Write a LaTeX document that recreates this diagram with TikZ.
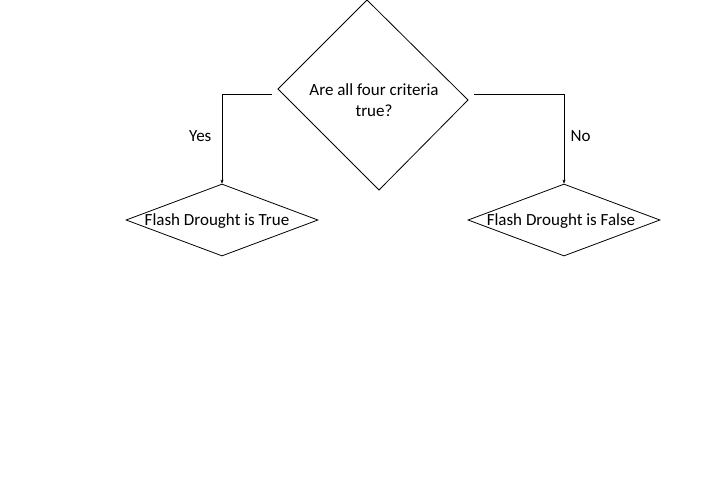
\documentclass[tikz,border=0pt]{standalone}
\usepackage{fontspec}
\setmainfont{Carlito}
\usetikzlibrary{shapes.geometric,arrows.meta}
\begin{document}
\begin{tikzpicture}[x=1pt,y=-1pt,
  shapeline/.style={draw=black,line width=0.8pt,line join=miter},
  dec/.style={shapeline,diamond,aspect=2.667,minimum width=192pt,minimum height=72pt,inner sep=0pt},
  conn/.style={draw=black,line width=0.6pt,-{Stealth[length=4pt,width=3pt]}},
  lbl/.style={font=\fontsize{17}{21}\selectfont,text=black}]
\useasboundingbox (0,0) rectangle (720,480);
% top decision (slightly rotated diamond)
\coordinate (qt) at (367,0);
\coordinate (ql) at (278,89);
\coordinate (qb) at (379,190);
\coordinate (qr) at (468,100);
\draw[shapeline] (qt) -- (qr) -- (qb) -- (ql) -- cycle;
\node[lbl,align=center] (q) at (374,100) {Are all four criteria\\true?};
% outcomes
\node[dec] (yes) at (222,220) {};
\node[lbl] (yest) at (217,221) {Flash Drought is True};
\node[dec] (no) at (564,220) {};
\node[lbl] (not) at (561,221) {Flash Drought is False};
% connectors
\coordinate (ls) at (272,94);
\coordinate (rs) at (474,94);
\draw[conn] (ls) -| (yes.north) node[lbl,pos=0.735,left=7pt] (ylab) {Yes};
\draw[conn] (rs) -| (no.north) node[lbl,pos=0.735,right=3pt] (nlab) {No};
\end{tikzpicture}
\end{document}
